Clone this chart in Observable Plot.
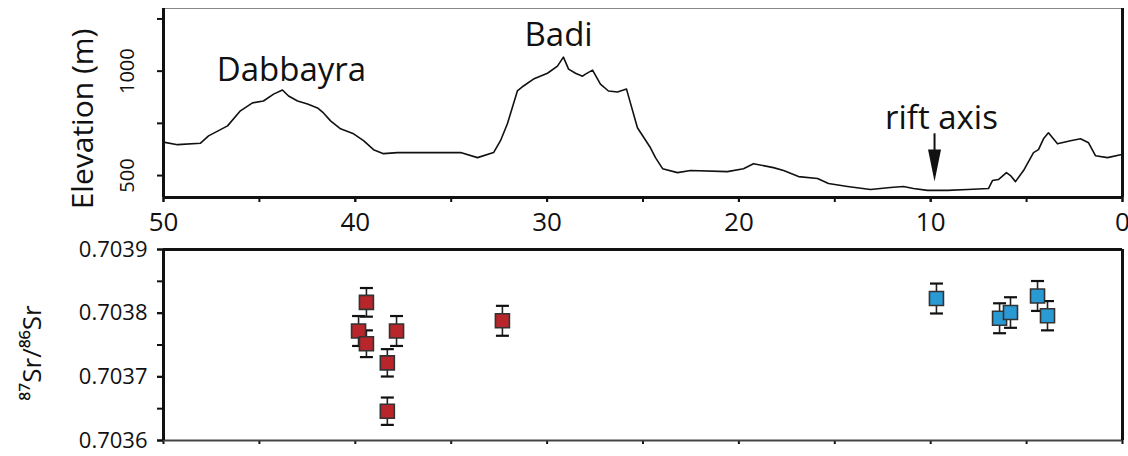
<!DOCTYPE html>
<html><head><meta charset="utf-8">
<script src="https://cdn.jsdelivr.net/npm/d3@7"></script>
<script src="https://cdn.jsdelivr.net/npm/@observablehq/plot@0.6"></script>
<style>
html,body{margin:0;padding:0;background:#fff;}
#top svg,#bottom svg{display:block;}
</style></head><body>
<div id="top"></div><div id="bottom"></div>
<script>
// ---- elevation profile (distance from rift axis in km, elevation in m)
const profileKm = [50, 49.27, 48.07, 47.65, 46.66, 45.99, 45.36, 44.79, 44.26, 43.8, 43.48, 43.01, 42.49, 41.97, 41.66, 41.29, 40.77, 40.09, 39.57, 39.05, 38.53, 37.8, 37.12,
  34.51, 33.63, 32.79, 32.43, 32.07, 31.55, 31.23, 30.71, 29.98, 29.46, 29.15, 28.88, 28.52, 28.15, 28.0, 27.63, 27.22, 26.8, 26.33, 25.86, 25.29, 24.61, 24.35, 23.98, 23.2, 22.52, 20.6,
  19.76, 19.24, 18.2, 17.67, 16.89, 15.9, 15.33, 14.34, 13.14, 12.62, 12.1, 11.42, 10.9, 10.17, 9.12, 8.08, 6.99, 6.78, 6.47, 6.05, 5.84, 5.58, 5.16, 4.64, 4.38, 4.12, 3.86, 3.39, 2.71, 2.19, 1.77, 1.41, 0.78, 0.1, 0];
const profileElev = [660, 648, 655, 690, 738, 810, 848, 857, 890, 910, 881, 857, 843, 824, 800, 762, 724, 700, 667, 624, 605, 610, 610,
  610, 586, 610, 667, 748, 905, 929, 962, 990, 1024, 1067, 1010, 990, 976, 986, 1005, 938, 905, 900, 914, 729, 633, 586, 533, 514, 524, 519,
  533, 557, 538, 524, 495, 486, 462, 448, 433, 438, 443, 448, 438, 429, 429, 433, 438, 476, 481, 514, 500, 471, 524, 610, 624, 676, 705, 652, 667, 676, 657, 595, 586, 600, 600];
const elevTickLabels = [500, 1000];
const elevTicks = [500, 750, 1000, 1250];
const kmTicks = [50, 45, 40, 35, 30, 25, 20, 15, 10, 5, 0];
const kmTickLabels = [50, 40, 30, 20, 10, 0];

// ---- place labels
const placeNames = ["Dabbayra", "Badi", "rift axis"];
const placeKm = [43.33, 29.4, 9.44];
const placeElev = [952, 1119, 724];
const arrowKm = [9.8];
const arrowFrom = [700];
const arrowTo = [600];
const arrowHeadAt = [548];

// ---- Sr isotope samples
const srKm = [39.83, 39.42, 39.42, 38.33, 38.33, 37.85, 32.33, 9.70, 6.41, 5.84, 4.43, 3.91];
const srRatio = [0.703772, 0.703817, 0.703752, 0.703722, 0.703646, 0.703772, 0.703788, 0.703823, 0.703792, 0.703801, 0.703827, 0.703796];
const srErr = [0.0000235, 0.0000225, 0.000021, 0.0000215, 0.0000215, 0.0000235, 0.0000235, 0.0000235, 0.0000235, 0.000024, 0.0000235, 0.000023];
const srGroup = ["flank", "flank", "flank", "flank", "flank", "flank", "flank", "rift", "rift", "rift", "rift", "rift"];
const srTickLabels = [0.7036, 0.7037, 0.7038, 0.7039];
const srTicks = [0.7036, 0.70365, 0.7037, 0.70375, 0.7038, 0.70385, 0.7039];
const groupColors = ["#b8262b", "#2a9ad4"];

const font = "'Open Sans', 'DejaVu Sans', sans-serif";
const profile = profileKm.map((k, i) => ({km: k, elev: profileElev[i]}));
const places = placeNames.map((n, i) => ({name: n, km: placeKm[i], elev: placeElev[i]}));
const samples = srKm.map((k, i) => ({km: k, v: srRatio[i], e: srErr[i], g: srGroup[i]}));

const arrowHead = {draw(ctx) { ctx.moveTo(-6.5, -16); ctx.lineTo(6.5, -16); ctx.lineTo(0, 16); ctx.closePath(); }};
const cap = {draw(ctx) { ctx.moveTo(-6.5, 0); ctx.lineTo(6.5, 0); }};
const square = {draw(ctx) { ctx.rect(-7, -7, 14, 14); }};

const topChart = Plot.plot({
  width: 1128, height: 240,
  marginLeft: 163, marginRight: 6, marginTop: 8, marginBottom: 43,
  x: {domain: [50, 0]},
  y: {domain: [395, 1300]},
  style: {fontFamily: font, fontSize: "26px", color: "#111", background: "#fff", overflow: "visible"},
  marks: [
    Plot.ruleY([1300], {stroke: "#888", strokeWidth: 1}),
    Plot.line(profile, {x: "km", y: "elev", stroke: "#111", strokeWidth: 1.6}),
    Plot.axisY(elevTicks, {tickSize: 6, fill: "none", label: null, strokeWidth: 2}),
    Plot.text(elevTickLabels, {y: d => d, text: d => String(d), frameAnchor: "left", textAnchor: "middle", lineAnchor: "middle", dx: -36, rotate: -90, fontSize: 20, fill: "#111"}),
    Plot.text(["Elevation (m)"], {frameAnchor: "left", textAnchor: "middle", lineAnchor: "middle", dx: -80, dy: 16, rotate: -90, fontSize: 30, fill: "#111"}),
    Plot.axisX(kmTicks, {tickSize: 5, fill: "none", label: null, strokeWidth: 2}),
    Plot.axisX(kmTickLabels, {tickSize: 5, tickPadding: 10, label: null, fontSize: 26, strokeWidth: 2}),
    Plot.ruleX([50], {stroke: "#111", strokeWidth: 3}),
    Plot.ruleX([0], {stroke: "#111", strokeWidth: 3}),
    Plot.ruleY([395], {stroke: "#111", strokeWidth: 3}),
    Plot.text(places, {x: "km", y: "elev", text: "name", lineAnchor: "bottom", fontSize: 33, fill: "#111"}),
    Plot.ruleX(arrowKm, {x: d => d, y1: arrowFrom, y2: arrowTo, stroke: "#111", strokeWidth: 2}),
    Plot.dot(arrowKm, {x: d => d, y: arrowHeadAt, symbol: arrowHead, fill: "#111", stroke: "none"})
  ]
});
document.getElementById("top").append(topChart);

const bottomChart = Plot.plot({
  width: 1128, height: 216,
  marginLeft: 163, marginRight: 6, marginTop: 9, marginBottom: 16,
  x: {domain: [50, 0]},
  y: {domain: [0.7036, 0.7039]},
  color: {domain: ["flank", "rift"], range: groupColors},
  style: {fontFamily: font, fontSize: "22px", color: "#111", background: "#fff", overflow: "visible"},
  marks: [
    Plot.axisY(srTicks, {tickSize: 6, fill: "none", label: null, strokeWidth: 2}),
    Plot.axisY(srTickLabels, {tickSize: 6, tickPadding: 10, tickFormat: d3.format(".4f"), fontSize: 22, label: null, strokeWidth: 2}),
    Plot.axisX(kmTicks, {tickSize: 4, fill: "none", label: null, strokeWidth: 2}),
    Plot.text(["⁸⁷Sr/⁸⁶Sr"], {frameAnchor: "left", textAnchor: "middle", lineAnchor: "middle", dx: -131, dy: 8, rotate: -90, fontSize: 26, fill: "#111"}),
    Plot.ruleX(samples, {x: "km", y1: d => d.v - d.e, y2: d => d.v + d.e, stroke: "#222", strokeWidth: 1.6}),
    Plot.dot(samples, {x: "km", y: d => d.v + d.e, symbol: cap, fill: "none", stroke: "#111", strokeWidth: 2.2}),
    Plot.dot(samples, {x: "km", y: d => d.v - d.e, symbol: cap, fill: "none", stroke: "#111", strokeWidth: 2.2}),
    Plot.dot(samples, {x: "km", y: "v", symbol: square, fill: "g", stroke: "#333", strokeWidth: 1.6}),
    Plot.ruleY([0.7039], {stroke: "#111", strokeWidth: 3}),
    Plot.ruleY([0.7036], {stroke: "#444", strokeWidth: 2}),
    Plot.ruleX([50], {stroke: "#111", strokeWidth: 3}),
    Plot.ruleX([0], {stroke: "#111", strokeWidth: 3})
  ]
});
document.getElementById("bottom").append(bottomChart);
</script>
</body></html>
